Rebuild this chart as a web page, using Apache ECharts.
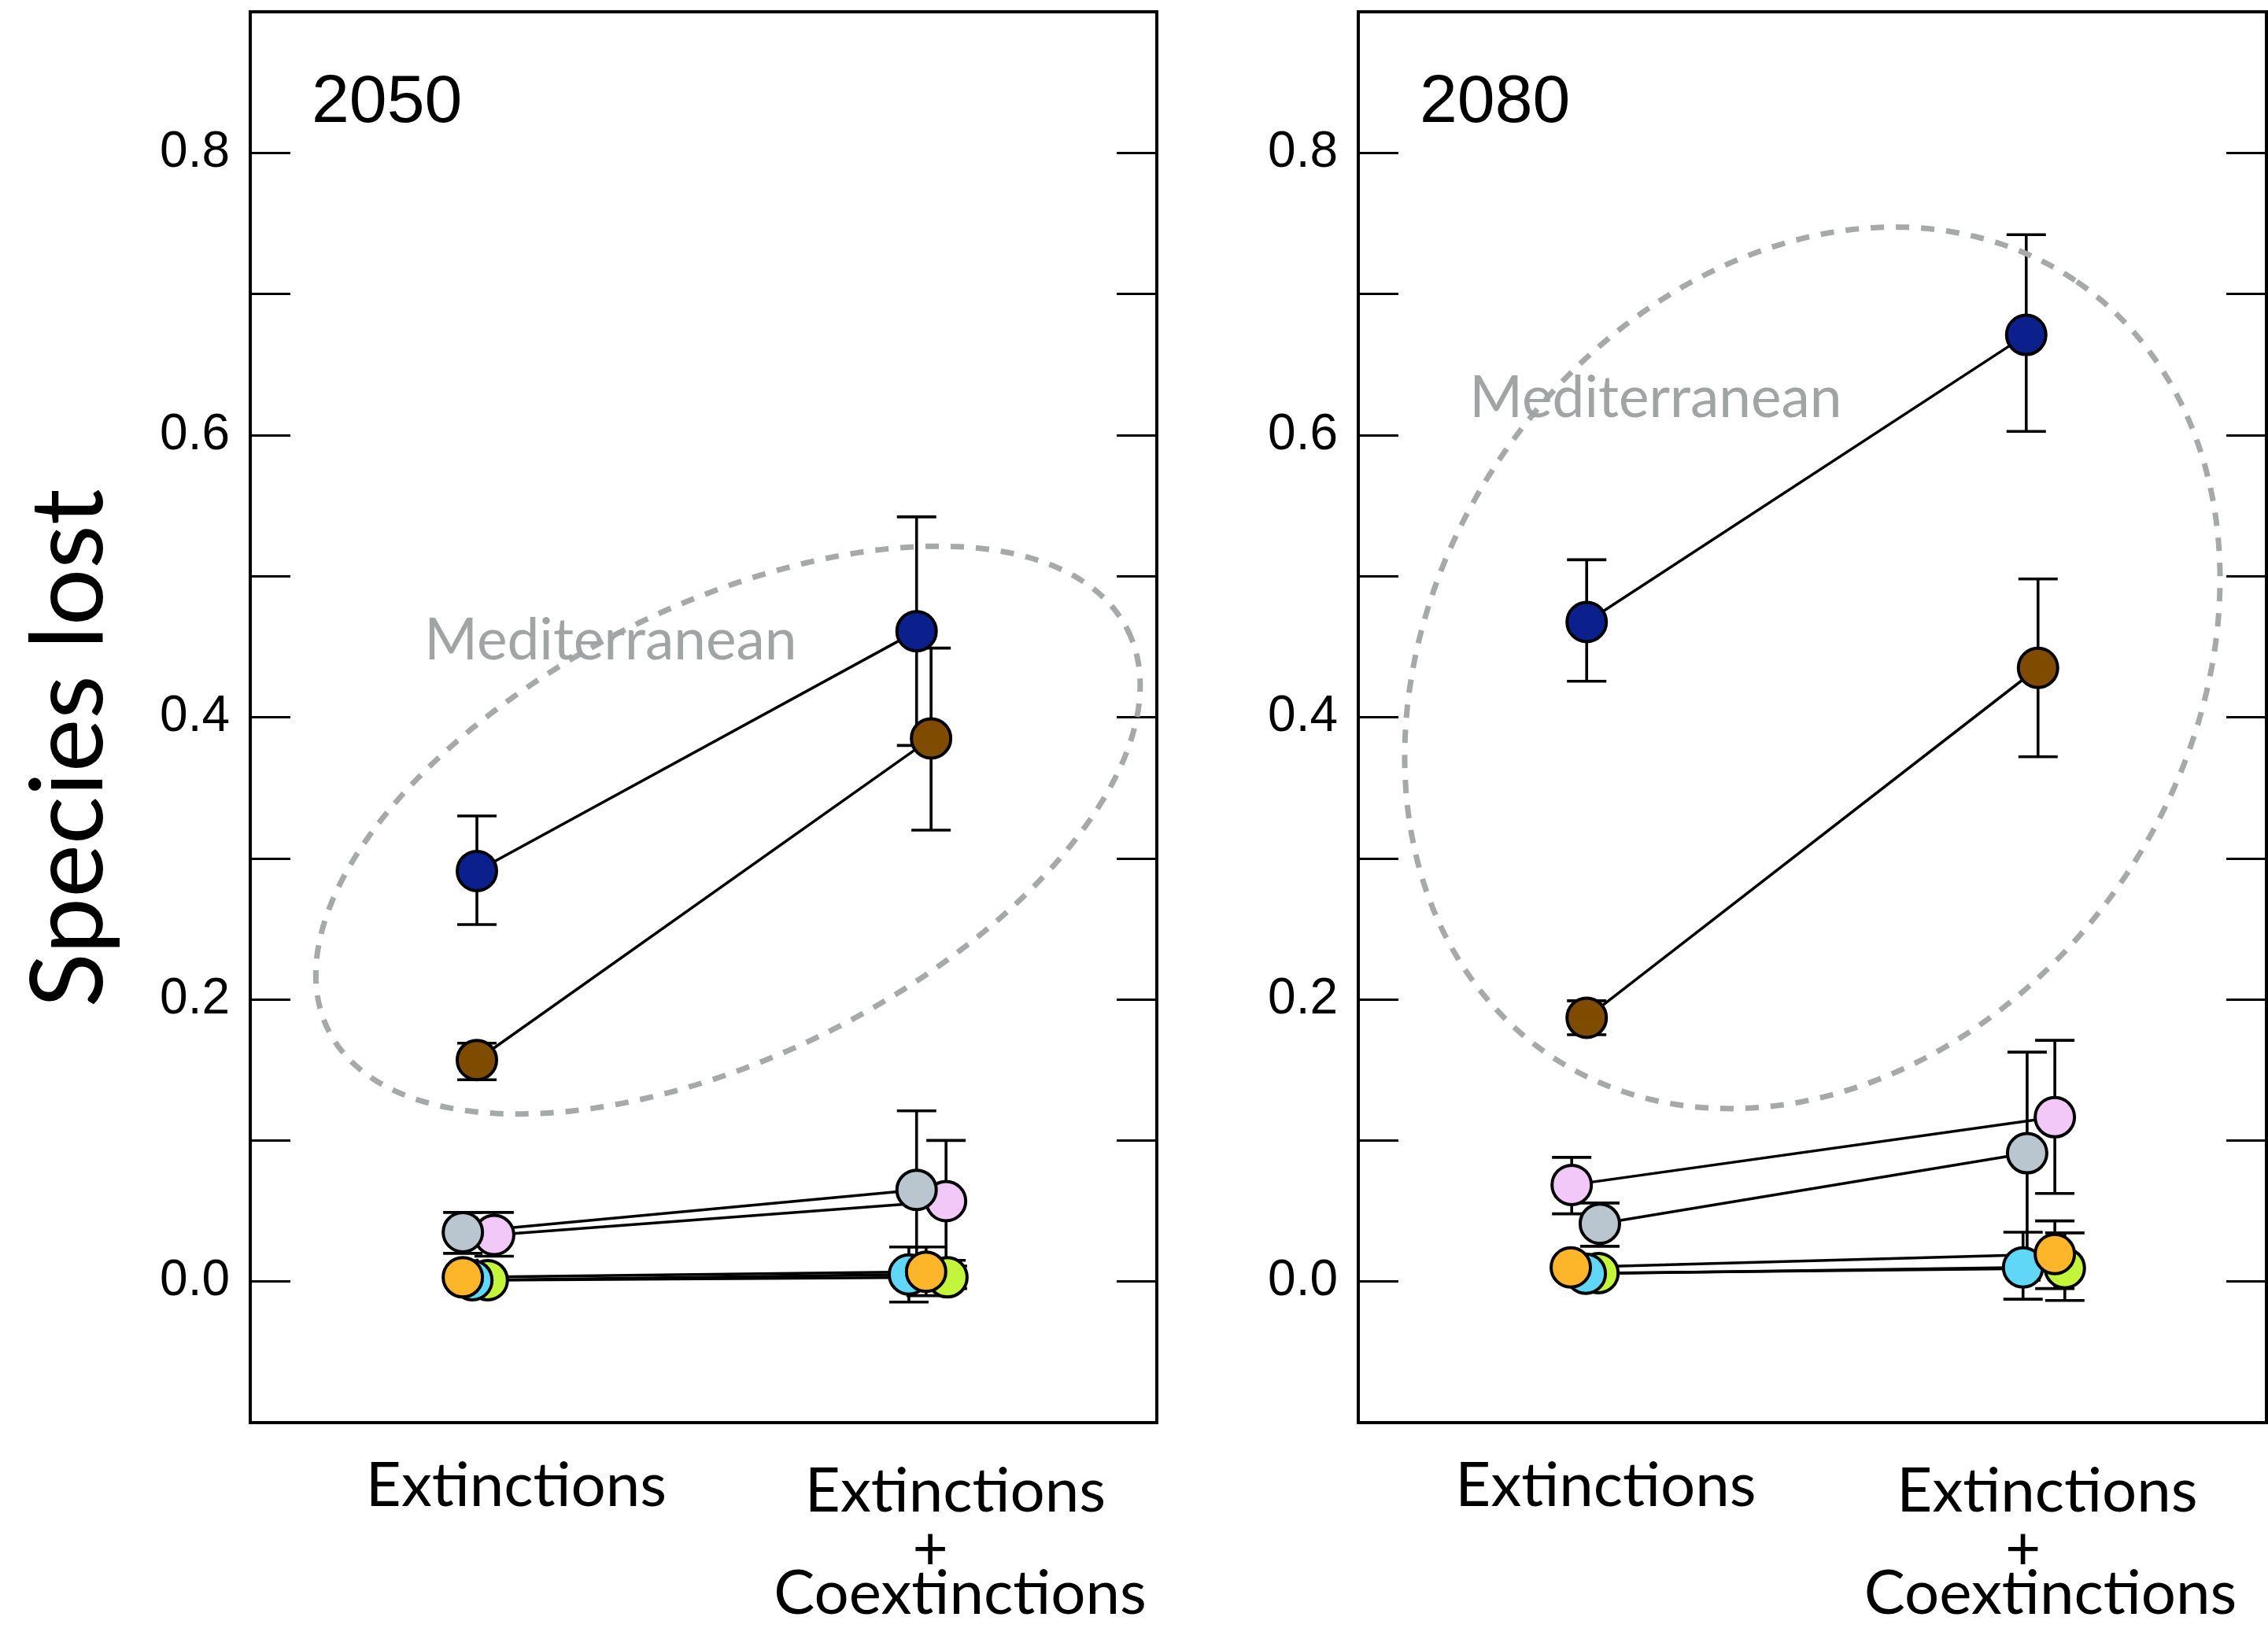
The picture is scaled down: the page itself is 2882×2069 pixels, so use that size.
<!DOCTYPE html>
<html>
<head>
<meta charset="utf-8">
<script src="https://cdn.jsdelivr.net/npm/echarts@6/dist/echarts.min.js"></script>
<style>
  html, body { margin: 0; padding: 0; background: #fff; }
  #chart { width: 2882px; height: 2069px; }
</style>
</head>
<body>
<div id="chart"></div>
<script>
// ---- data ---------------------------------------------------------------
// Two scenarios per panel, placed at x = 1 and x = 2 on a value axis.
const categories = ['Extinctions', 'Extinctions\n+\nCoextinctions'];
const panelYears = ['2050', '2080'];
const yTickLabels = ['0.0', '0.2', '0.4', '0.6', '0.8'];

// Point colours per group; draw order puts later groups on top.
const groupColors = {
  navy: '#0b1f8d', brown: '#7f4b00', green: '#c4f53d', cyan: '#60d7f6',
  orange: '#fdb52a', pink: '#f1c8f8', grey: '#b9c5cf'
};
const drawOrder = ['navy', 'brown', 'green', 'cyan', 'orange', 'pink', 'grey'];

// 2050 panel: x position (with small side offsets), mean, error bar ends
const x2050    = { navy: [1.000, 1.970], brown: [1.000, 2.002], grey: [0.969, 1.970], pink: [1.038, 2.035], orange: [0.969, 1.991], cyan: [0.990, 1.953], green: [1.024, 2.038] };
const mean2050 = { navy: [0.291, 0.461], brown: [0.157, 0.385], grey: [0.035, 0.065], pink: [0.033, 0.057], orange: [0.003, 0.007], cyan: [0.001, 0.005], green: [0.001, 0.003] };
const low2050  = { navy: [0.253, 0.380], brown: [0.143, 0.320], grey: [0.020, 0.008], pink: [0.018, 0.015], orange: [0.000, -0.010], cyan: [-0.001, -0.0145], green: [-0.001, -0.005] };
const high2050 = { navy: [0.330, 0.542], brown: [0.169, 0.449], grey: [0.049, 0.121], pink: [0.049, 0.100], orange: [0.006, 0.0245], cyan: [0.003, 0.0245], green: [0.003, 0.011] };

// 2080 panel
const x2080    = { navy: [1.003, 1.971], brown: [1.003, 1.997], grey: [1.032, 1.973], pink: [0.970, 2.034], orange: [0.968, 2.034], cyan: [1.001, 1.964], green: [1.029, 2.056] };
const mean2080 = { navy: [0.4675, 0.671], brown: [0.187, 0.435], grey: [0.041, 0.091], pink: [0.0685, 0.1165], orange: [0.010, 0.0195], cyan: [0.0056, 0.010], green: [0.006, 0.0095] };
const low2080  = { navy: [0.4255, 0.6026], brown: [0.175, 0.372], grey: [0.025, 0.019], pink: [0.048, 0.0624], orange: [0.007, -0.005], cyan: [0.003, -0.0125], green: [0.003, -0.0134] };
const high2080 = { navy: [0.5116, 0.742], brown: [0.199, 0.498], grey: [0.0557, 0.1626], pink: [0.088, 0.171], orange: [0.013, 0.043], cyan: [0.008, 0.035], green: [0.009, 0.0345] };

// Dashed outline around the Mediterranean groups:
// centre (data units), semi-axes (in x-axis units), tilt in degrees, label position (data units)
const mediterraneanRing = [
  [1.554, 0.320, 0.986, 0.497, 26.6, 1.295, 0.454],
  [1.500, 0.435, 1.031, 0.828, 55.6, 1.155, 0.626]
];
const ringLabel = 'Mediterranean';
const yAxisTitle = 'Species lost';

const panels = [
  { x: x2050, mean: mean2050, low: low2050, high: high2050 },
  { x: x2080, mean: mean2080, low: low2080, high: high2080 }
];

// ---- chart --------------------------------------------------------------
const chart = echarts.init(document.getElementById('chart'), null, { renderer: 'canvas' });

const BLACK = '#000';
const SANS = '"Liberation Sans", Arial, Helvetica, sans-serif';
const HUMANIST = 'Lato, "Open Sans", sans-serif';
const RING_GREY = '#a5a9a9';

const grids = [
  { left: 318, top: 15, width: 1152, height: 1793, show: true, borderColor: BLACK, borderWidth: 4, backgroundColor: 'transparent' },
  { left: 1726, top: 15, width: 1154, height: 1793, show: true, borderColor: BLACK, borderWidth: 4, backgroundColor: 'transparent' }
];

const xAxes = grids.map((g, gi) => ({
  gridIndex: gi, type: 'value', min: 0.5, max: 2.5,
  axisLine: { show: false }, splitLine: { show: false },
  axisTick: { show: true, inside: true, length: 29, customValues: [1, 2], lineStyle: { color: BLACK, width: 3 } },
  axisLabel: { show: false }
}));

const yAxes = [];
grids.forEach((g, gi) => {
  const common = {
    gridIndex: gi, type: 'value', min: -0.1, max: 0.9, interval: 0.1,
    axisLine: { show: false }, splitLine: { show: false },
    axisTick: { show: true, inside: true, length: 51, lineStyle: { color: BLACK, width: 3.2 } }
  };
  yAxes.push(Object.assign({}, common, {
    position: 'left',
    axisLabel: {
      margin: 26, fontSize: 64, fontFamily: SANS, color: BLACK,
      formatter: v => {
        const k = Math.round(v * 10);
        return (k >= 0 && k <= 8 && k % 2 === 0) ? yTickLabels[k / 2] : '';
      }
    }
  }));
  yAxes.push(Object.assign({}, common, { position: 'right', axisLabel: { show: false } }));
});

const series = [];
panels.forEach((p, gi) => {
  // error bars underneath everything else
  series.push({
    type: 'custom', xAxisIndex: gi, yAxisIndex: 2 * gi, z: 2, silent: true,
    data: drawOrder.flatMap(k => [0, 1].map(i => [p.x[k][i], p.low[k][i], p.high[k][i]])),
    renderItem: (params, api) => {
      const x = api.value(0);
      const lo = api.coord([x, api.value(1)]);
      const hi = api.coord([x, api.value(2)]);
      const w = 25;
      const st = { stroke: BLACK, lineWidth: 3.6 };
      return {
        type: 'group', children: [
          { type: 'line', shape: { x1: lo[0], y1: lo[1], x2: hi[0], y2: hi[1] }, style: st },
          { type: 'line', shape: { x1: lo[0] - w, y1: lo[1], x2: lo[0] + w, y2: lo[1] }, style: st },
          { type: 'line', shape: { x1: hi[0] - w, y1: hi[1], x2: hi[0] + w, y2: hi[1] }, style: st }
        ]
      };
    }
  });
  // each group: connecting line plus its two points
  drawOrder.forEach(k => {
    series.push({
      type: 'line', xAxisIndex: gi, yAxisIndex: 2 * gi, z: 3, silent: true,
      data: [0, 1].map(i => [p.x[k][i], p.mean[k][i]]),
      symbol: 'circle', symbolSize: 50, showSymbol: true,
      itemStyle: { color: groupColors[k], borderColor: BLACK, borderWidth: 4 },
      lineStyle: { color: BLACK, width: 3.5 },
      emphasis: { disabled: true }
    });
  });
  // Mediterranean outline and label
  series.push({
    type: 'custom', xAxisIndex: gi, yAxisIndex: 2 * gi, z: 4, silent: true,
    data: [mediterraneanRing[gi]],
    renderItem: (params, api) => {
      const c = api.coord([api.value(0), api.value(1)]);
      const unit = api.size([1, 0])[0];
      const a = api.value(2) * unit, b = api.value(3) * unit;
      const th = api.value(4) * Math.PI / 180;
      const pts = [];
      for (let i = 0; i < 360; i++) {
        const t = i * Math.PI / 180;
        const ca = a * Math.cos(t), sb = b * Math.sin(t);
        pts.push([c[0] + ca * Math.cos(th) + sb * Math.sin(th), c[1] - ca * Math.sin(th) + sb * Math.cos(th)]);
      }
      const lp = api.coord([api.value(5), api.value(6)]);
      return {
        type: 'group', children: [
          { type: 'polygon', shape: { points: pts }, style: { fill: 'none', stroke: RING_GREY, lineWidth: 7, lineDash: [17, 15] } },
          { type: 'text', x: lp[0], y: lp[1], style: { text: ringLabel, fill: '#a0a4a4', font: '73px ' + HUMANIST, align: 'center', verticalAlign: 'middle' } }
        ]
      };
    }
  });
});

chart.setOption({
  animation: false,
  backgroundColor: '#fff',
  grid: grids,
  xAxis: xAxes,
  yAxis: yAxes,
  series: series
});

// ---- text outside the plotting areas ----------------------------------
const graphics = [];
graphics.push({
  type: 'text', x: 89, y: 951, rotation: Math.PI / 2,
  style: { text: yAxisTitle, font: '128px ' + HUMANIST, fill: BLACK, align: 'center', verticalAlign: 'middle' }
});
grids.forEach((g, gi) => {
  graphics.push({
    type: 'text', x: g.left + 78, y: 131,
    style: { text: panelYears[gi], font: '86px ' + SANS, fill: BLACK, align: 'left', verticalAlign: 'middle' }
  });
  const tick1 = chart.convertToPixel({ xAxisIndex: gi }, 1);
  const tick2 = chart.convertToPixel({ xAxisIndex: gi }, 2);
  // horizontal nudges of each label line relative to its tick
  const nudge = gi === 0 ? { single: 50, lines: [32, 0, 38] } : { single: 26, lines: [10, -21, 14] };
  graphics.push({
    type: 'text', x: tick1 + nudge.single, y: 1889,
    style: { text: categories[0], font: '78px ' + HUMANIST, fill: BLACK, align: 'center', verticalAlign: 'middle' }
  });
  const lines = categories[1].split('\n');
  const lineY = [1896, 1970, 2026];
  lines.forEach((t, li) => {
    graphics.push({
      type: 'text', x: tick2 + nudge.lines[li], y: lineY[li],
      style: { text: t, font: '78px ' + HUMANIST, fill: BLACK, align: 'center', verticalAlign: 'middle' }
    });
  });
});
chart.setOption({ graphic: graphics });
</script>
</body>
</html>
